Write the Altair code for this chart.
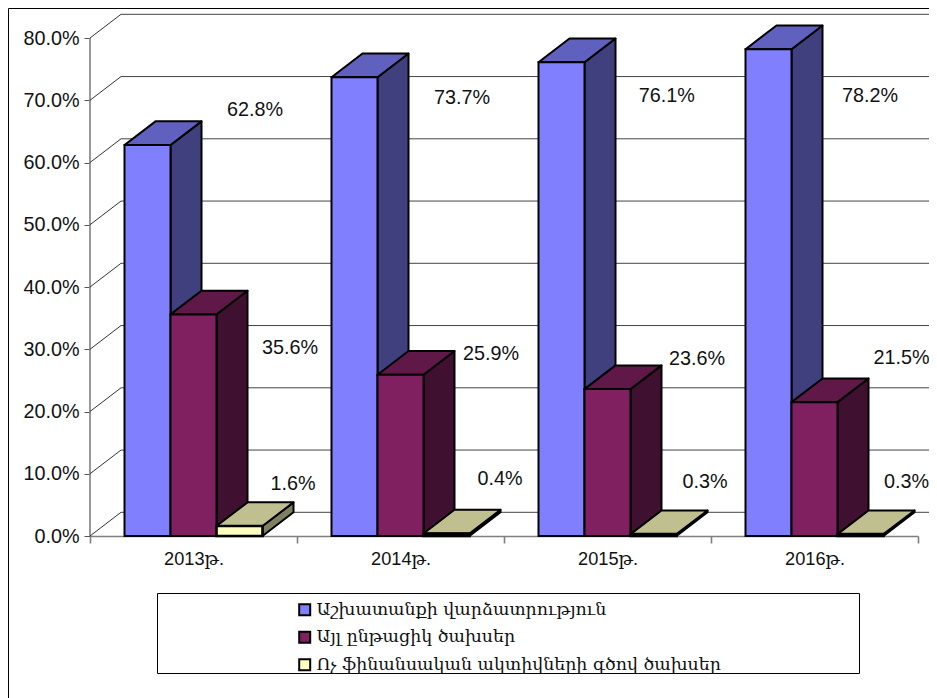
import altair as alt
import pandas as pd

# ---- values ----
years = ["2013թ.", "2014թ.", "2015թ.", "2016թ."]
series_names = ["Աշխատանքի վարձատրություն", "Այլ ընթացիկ ծախսեր", "Ոչ ֆինանսական ակտիվների գծով ծախսեր"]
wages = [62.8, 73.7, 76.1, 78.2]
current = [35.6, 25.9, 23.6, 21.5]
nonfin = [1.6, 0.4, 0.3, 0.3]
series_values = [wages, current, nonfin]
y_ticks = [0, 10, 20, 30, 40, 50, 60, 70, 80]

# ---- colours of each series' faces ----
front_colors = ["#8080FF", "#802060", "#FFFFC0"]
top_colors = ["#6060BF", "#601848", "#BFBF90"]
side_colors = ["#40407F", "#401030", "#808060"]
front_stroke = [2, 2, 2.6]

# ---- layout, in axis units ----
X_MAX = 839 / 207
Y_MAX = 528 / 6.225
DX = 31 / 207
DY = 23.7 / 6.225
BAR_START = 34.5 / 207
BAR_W = 46 / 207
label_x = [[0.797, 1.797, 2.787, 3.768], [0.966, 1.937, 2.932, 3.920], [0.981, 1.981, 2.971, 3.945]]
label_y = [[68.4, 70.4, 70.7, 70.7], [30.2, 29.2, 28.4, 28.6], [8.35, 9.16, 8.67, 8.67]]

FONT = "Liberation Sans, DejaVu Serif"
LEGEND_FONT = "DejaVu Serif"

xs = alt.Scale(domain=[0, X_MAX], nice=False, zero=False)
ys = alt.Scale(domain=[0, Y_MAX], nice=False)
X = alt.X("x:Q", scale=xs, axis=None)
Y = alt.Y("y:Q", scale=ys, axis=alt.Axis(
    values=y_ticks, title=None, domain=False, grid=False, tickSize=6, tickColor="#555555",
    labelExpr="format(datum.value,'.1f')+'%'", labelFont=FONT, labelFontSize=19.8,
    labelColor="#111111", labelPadding=5))

# walls: gridlines and their diagonals
wall = pd.DataFrame({"y": [g + DY for g in y_ticks], "x": DX, "x2": X_MAX})
diag = pd.DataFrame(
    [{"g": g, "x": 0, "y": g} for g in y_ticks] + [{"g": g, "x": DX, "y": g + DY} for g in y_ticks]
)
layers = [
    alt.Chart(pd.DataFrame({"x": [0], "y": [y_ticks[0]], "y2": [y_ticks[-1]]})).mark_rule(
        color="#808080", strokeWidth=1.6).encode(x=X, y=Y, y2="y2:Q"),
    alt.Chart(wall).mark_rule(color="#444444", strokeWidth=1).encode(x=X, x2="x2:Q", y=Y),
    alt.Chart(diag).mark_line(color="#333333", strokeWidth=1).encode(x=X, y=Y, detail="g:N"),
]

# bars: side, top, then front for each series, back to front
for s, (name, vals) in enumerate(zip(series_names, series_values)):
    side_rows, top_rows, front_rows = [], [], []
    for c, v in enumerate(vals):
        xl = c + BAR_START + s * BAR_W
        xr = xl + BAR_W
        side_rows += [{"b": c, "x": xr, "y": 0, "y2": v}, {"b": c, "x": xr + DX, "y": DY, "y2": v + DY}]
        top_rows += [{"b": c, "y": v, "x": xl, "x2": xr}, {"b": c, "y": v + DY, "x": xl + DX, "x2": xr + DX}]
        front_rows.append({"series": name, "x": xl, "x2": xr, "y": 0, "y2": v})
    layers.append(alt.Chart(pd.DataFrame(side_rows)).mark_area(
        fill=side_colors[s], stroke="black", strokeWidth=2, strokeJoin="round", interpolate="linear"
    ).encode(x=X, y=Y, y2="y2:Q", detail="b:N"))
    layers.append(alt.Chart(pd.DataFrame(top_rows)).mark_area(
        fill=top_colors[s], stroke="black", strokeWidth=2, strokeJoin="round", interpolate="linear", orient="horizontal"
    ).encode(x=X, x2="x2:Q", y=Y, detail="b:N"))
    layers.append(alt.Chart(pd.DataFrame(front_rows)).mark_rect(stroke="black", strokeWidth=front_stroke[s]).encode(
        x=X, x2="x2:Q", y=Y, y2="y2:Q",
        color=alt.Color("series:N", sort=series_names,
                        scale=alt.Scale(domain=series_names, range=front_colors),
                        legend=alt.Legend(
                            orient="none", legendX=206, legendY=593, title=None, direction="vertical",
                            symbolType="square", symbolSize=121, symbolStrokeColor="black",
                            symbolStrokeWidth=2, labelFont=LEGEND_FONT, labelFontSize=17.4,
                            labelColor="#111111", labelLimit=600, rowPadding=7.5, labelOffset=3,
                        )),
    ))

# data labels
lab_rows = []
for s, vals in enumerate(series_values):
    for c, v in enumerate(vals):
        lab_rows.append({"x": label_x[s][c], "y": label_y[s][c], "t": f"{v:.1f}%"})
layers.append(alt.Chart(pd.DataFrame(lab_rows)).mark_text(
    font=FONT, fontSize=19.8, color="#111111", align="center", baseline="middle"
).encode(x=X, y=Y, text="t:N"))

# legend frame and outer frame
one = pd.DataFrame({"k": [1]})
layers.append(alt.Chart(one).mark_rect(fill="transparent", stroke="black", strokeWidth=1).encode(
    x=alt.value(67.5), x2=alt.value(769.5), y=alt.value(585.5), y2=alt.value(665.5)))
layers.append(alt.Chart(one).mark_rect(fill="transparent", stroke="black", strokeWidth=1).encode(
    x=alt.value(-81.5), x2=alt.value(900), y=alt.value(0.5), y2=alt.value(720)))

inner = alt.layer(*layers)

# category axis: band scale so that ticks fall between the categories
cat_axis = alt.Chart(pd.DataFrame({"year": years})).mark_text(text="", opacity=0).encode(
    x=alt.X("year:N", sort=years,
            scale=alt.Scale(domain=years, range=[0, 828], paddingInner=0, paddingOuter=0),
            axis=alt.Axis(orient="bottom", title=None, tickBand="extent", labelAngle=0, tickSize=7,
                          tickColor="#808080", domainColor="#808080", domainWidth=1.6, tickWidth=1.6,
                          labelFont=FONT, labelFontSize=18.2, labelColor="#111111", labelPadding=7,
                          grid=False))
)

chart = alt.layer(cat_axis, inner).resolve_scale(x="independent").properties(
    width=839, height=528,
    padding={"left": 82, "top": 0, "right": 0, "bottom": 162},
    autosize=alt.AutoSizeParams(type="none"),
    background="white",
).configure_view(stroke=None)

chart.save("out.html", embed_options={"renderer": "svg", "actions": False})
